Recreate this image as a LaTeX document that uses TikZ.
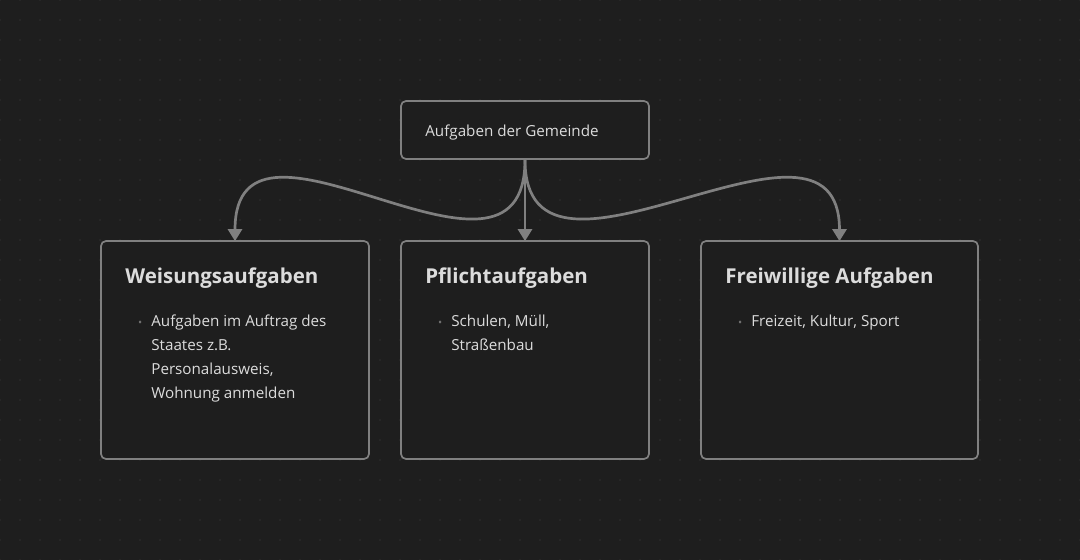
\documentclass[tikz,border=0pt]{standalone}
\usepackage{fontspec}
\setmainfont{Open Sans}
\usepackage{xcolor}
\usetikzlibrary{positioning}
\usetikzlibrary{arrows.meta}
\definecolor{canvasbg}{HTML}{1E1E1E}
\definecolor{canvasdot}{HTML}{303030}
\definecolor{edgegray}{HTML}{808080}
\definecolor{cardtext}{HTML}{DCDCDC}
\definecolor{bulletgray}{HTML}{707070}
\tikzstyle{card} = [draw=edgegray, line width=1.7pt, rounded corners=5pt, fill=canvasbg]
\tikzstyle{cardtitle} = [anchor=base west, inner sep=0pt, text=cardtext, font=\fontsize{20.5}{24}\selectfont\bfseries]
\tikzstyle{carditem} = [anchor=base west, inner sep=0pt, text=cardtext, align=left, font=\fontsize{15.2}{24}\selectfont]
\tikzstyle{link} = [draw=edgegray, line width=2.7pt, -{Triangle[width=14pt,length=12pt]}]
\newcommand{\dotitem}{\llap{\textcolor{bulletgray}{\fontsize{11}{11}\selectfont\textbullet}\hspace{9pt}}}

\begin{document}
\begin{tikzpicture}[x=1pt,y=-1pt]
      % background with dot grid
      \fill[canvasbg] (0,0) rectangle (1080,560);
      \useasboundingbox (0,0) rectangle (1080,560);
      \foreach \i in {0,...,54}
        \foreach \j in {0,...,28}
          \fill[canvasdot] (20*\i,20*\j) circle(0.9);
      %%%%%%%%%%%%%%%%%%%%%%%%%%%%%%%%%%%%%%%
      \node (gem) [card, minimum width=248, minimum height=58] at (525,130) {};
      \node (weis) [card, minimum width=268, minimum height=218] at (235,350) {};
      \node (pfl) [card, minimum width=248, minimum height=218] at (525,350) {};
      \node (frei) [card, minimum width=277, minimum height=218] at (839.5,350) {};
      %\node (gemtext) at (gem) {};
      \node (gemtext) [carditem] at ([shift={(25,6)}]gem.west) {Aufgaben der Gemeinde};
      \node (weistitle) [cardtitle] at ([shift={(25,43)}]weis.north west) {Weisungsaufgaben};
      \node (pfltitle) [cardtitle] at ([shift={(25,43)}]pfl.north west) {Pflichtaufgaben};
      \node (freititle) [cardtitle] at ([shift={(25,43)}]frei.north west) {Freiwillige Aufgaben};
      % base = last line
      \node (weisitem) [carditem] at ([shift={(51,158)}]weis.north west) {\dotitem Aufgaben im Auftrag des\\Staates z.B.\\Personalausweis,\\Wohnung anmelden};
      \node (pflitem) [carditem] at ([shift={(51,110)}]pfl.north west) {\dotitem Schulen, Müll,\\Straßenbau};
      \node (freiitem) [carditem] at ([shift={(51,86)}]frei.north west) {\dotitem Freizeit, Kultur, Sport};
      % edges
      \draw[link] (gem.south) .. controls +(0,165) and +(0,-165) .. ([yshift=-1pt]weis.north);
      \draw[link] (gem.south) -- ([yshift=-1pt]pfl.north);
      \draw[link] (gem.south) .. controls +(0,165) and +(0,-165) .. ([yshift=-1pt]frei.north);
      \end{tikzpicture}
\end{document}
